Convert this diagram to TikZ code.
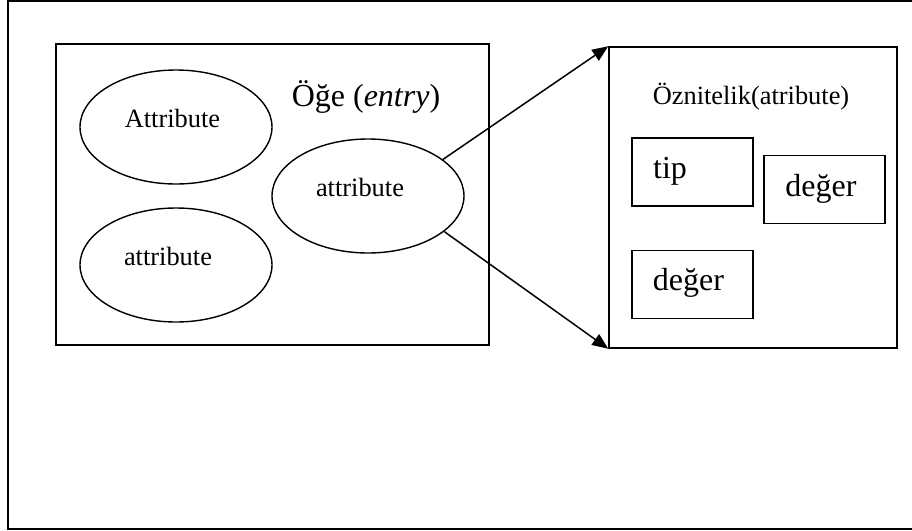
\documentclass[tikz,border=0pt]{standalone}
\usepackage{fontspec}
\setmainfont{Liberation Serif}
\usetikzlibrary{arrows.meta,shapes.geometric}
\begin{document}
\begin{tikzpicture}[x=0.5pt,y=-0.5pt,
  frame/.style={draw,line width=1pt},
  boxline/.style={draw,line width=0.75pt},
  blob/.style={draw,line width=0.7pt,ellipse,minimum width=96pt,minimum height=57pt,inner sep=0pt},
  cell/.style={draw,line width=0.75pt,rectangle,minimum width=60.5pt,minimum height=34pt,inner sep=0pt},
  small/.style={font=\fontsize{13.2}{15}\selectfont,anchor=base,inner sep=0pt},
  big/.style={font=\fontsize{16}{19}\selectfont,anchor=base,inner sep=0pt},
  link/.style={line width=0.75pt,-{Triangle[length=8pt,width=6.5pt]}}]
\useasboundingbox (0,0) rectangle (912,531);
\fill[white] (0,0) rectangle (912,531);
% outer page frame, its right edge runs past the picture
\draw[frame] (930,1) -- (8,1) -- (8,529) -- (930,529);

% entry box with its attributes
\node[boxline,rectangle,minimum width=216.5pt,minimum height=150.5pt,inner sep=0pt] (entry) at (272.5,194.5) {};
\node[big] (entrylabel) at (366,106) {Öğe (\textit{entry})};
\node[blob] (e1) at (176,127) {};
\node[blob] (e2) at (176,265) {};
\node[blob] (e3) at (368,196) {};
\node[small] (t1) at (172.5,127) {Attribute};
\node[small] (t2) at (168,265) {attribute};
\node[small] (t3) at (360,196) {attribute};

% attribute box with its parts
\node[boxline,rectangle,minimum width=144pt,minimum height=150.5pt,inner sep=0pt] (attr) at (753,197.5) {};
\node[small] (attrlabel) at (751,104) {Öznitelik(atribute)};
\node[cell] (tipbox) at (692.5,172) {};
\node[cell] (valbox1) at (824.5,189.5) {};
\node[cell] (valbox2) at (692.5,284.5) {};
\node[big] (tip) at (670,178) {tip};
\node[big] (val1) at (821,196) {değer};
\node[big] (val2) at (688.5,290) {değer};

% links from the attribute to the attribute box
\draw[link] (e3.26) -- (attr.north west);
\draw[link] (e3.-25) -- (attr.south west);
\end{tikzpicture}
\end{document}
